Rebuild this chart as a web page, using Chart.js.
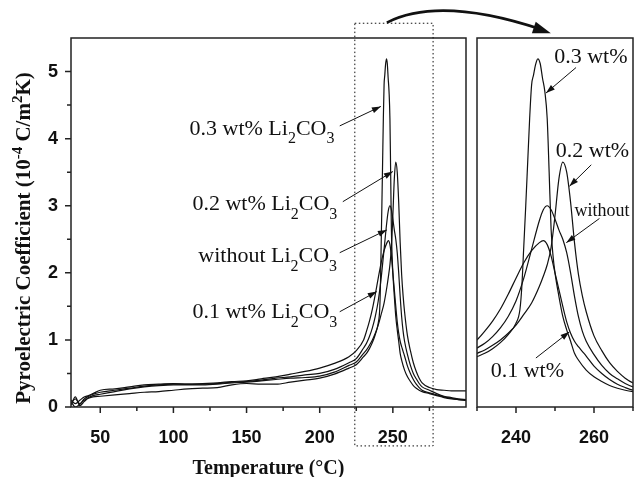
<!DOCTYPE html>
<html>
<head>
<meta charset="utf-8">
<script src="https://cdn.jsdelivr.net/npm/chart.js@4.4.0/dist/chart.umd.min.js"></script>
<style>
  html, body { margin: 0; padding: 0; background: #fff; }
  #wrap { position: relative; width: 641px; height: 477px; }
  #main { position: absolute; left: 0; top: 0; }
  #inset { position: absolute; left: 467px; top: 0; }
</style>
</head>
<body>
<div id="wrap">
  <canvas id="main" width="641" height="477"></canvas>
  <canvas id="inset" width="174" height="477"></canvas>
</div>
<script>
// temperatures (°C) shared by the baseline part of every curve
const baseT = [30, 33, 36, 39, 42, 45, 50, 60, 70, 80, 90, 100, 110, 120, 130, 140, 150, 160, 170, 180, 190, 200, 210, 220, 225];
// temperatures around the transition
const peakT = [230, 232, 234, 236, 238, 240, 242, 244, 246, 247, 248, 249, 250, 251, 252, 253, 254, 255, 256, 257, 258, 260, 262, 264, 266, 268, 270, 275, 280, 285, 290, 295, 300];
const peakT03 = [230, 232, 234, 236, 238, 240, 241, 241.5, 242, 242.5, 243, 243.5, 244, 244.5, 245, 245.6, 246.2, 246.8, 247.4, 248, 248.5, 249, 249.5, 250, 251, 252, 253, 254, 255, 256, 258, 260, 262, 264, 266, 268, 270, 275, 280, 285, 290, 295, 300];

// pyroelectric coefficient (10^-4 C/m2K)
const base01 = [0.06, 0.12, 0.05, 0.12, 0.16, 0.19, 0.22, 0.25, 0.28, 0.31, 0.33, 0.34, 0.34, 0.35, 0.36, 0.38, 0.39, 0.42, 0.45, 0.49, 0.53, 0.58, 0.65, 0.75, 0.84];
const peak01 = [1.0, 1.13, 1.28, 1.46, 1.68, 1.92, 2.15, 2.33, 2.45, 2.48, 2.42, 2.25, 2.0, 1.75, 1.5, 1.27, 1.1, 0.98, 0.9, 0.83, 0.76, 0.61, 0.5, 0.41, 0.34, 0.29, 0.25, 0.21, 0.18, 0.15, 0.13, 0.11, 0.1];

const base00 = [0.1, 0.05, 0.1, 0.15, 0.17, 0.2, 0.25, 0.27, 0.3, 0.33, 0.34, 0.35, 0.34, 0.34, 0.35, 0.37, 0.38, 0.4, 0.43, 0.45, 0.48, 0.5, 0.56, 0.66, 0.72];
const peak00 = [0.88, 0.95, 1.05, 1.18, 1.35, 1.58, 1.92, 2.35, 2.78, 2.94, 3.0, 2.94, 2.8, 2.64, 2.5, 2.3, 2.0, 1.65, 1.35, 1.13, 0.98, 0.78, 0.62, 0.5, 0.42, 0.35, 0.3, 0.25, 0.2, 0.16, 0.14, 0.12, 0.11];

const base02 = [0.03, 0.15, 0.02, 0.08, 0.14, 0.17, 0.19, 0.23, 0.27, 0.3, 0.32, 0.33, 0.33, 0.33, 0.34, 0.36, 0.37, 0.39, 0.41, 0.43, 0.44, 0.46, 0.52, 0.62, 0.67];
const peak02 = [0.8, 0.85, 0.92, 1.0, 1.1, 1.22, 1.38, 1.55, 1.8, 1.95, 2.12, 2.38, 2.85, 3.4, 3.65, 3.5, 3.05, 2.45, 1.98, 1.66, 1.42, 1.06, 0.84, 0.66, 0.53, 0.43, 0.36, 0.29, 0.26, 0.25, 0.24, 0.24, 0.24];

const base03 = [0.08, 0.0, 0.04, 0.1, 0.13, 0.15, 0.16, 0.18, 0.2, 0.22, 0.23, 0.25, 0.27, 0.28, 0.29, 0.33, 0.35, 0.34, 0.34, 0.37, 0.4, 0.43, 0.49, 0.58, 0.63];
const peak03 = [0.75, 0.8, 0.87, 0.96, 1.08, 1.25, 1.45, 1.8, 2.4, 3.0, 3.65, 4.3, 4.8, 4.95, 5.1, 5.19, 5.12, 4.9, 4.7, 4.3, 3.5, 2.65, 2.25, 2.0, 1.65, 1.35, 1.15, 0.98, 0.8, 0.7, 0.55, 0.45, 0.38, 0.32, 0.28, 0.25, 0.23, 0.2, 0.17, 0.14, 0.12, 0.11, 0.1];

const seriesNames = ['0.1 wt%', 'without', '0.2 wt%', '0.3 wt%'];

const xTicksMain = [50, 100, 150, 200, 250];
const xTicksInset = [240, 260];
const yTicks = [0, 1, 2, 3, 4, 5];

function pts(ts, vs) { return ts.map((t, i) => ({ x: t, y: vs[i] })); }

const curves = [
  pts(baseT.concat(peakT), base01.concat(peak01)),
  pts(baseT.concat(peakT), base00.concat(peak00)),
  pts(baseT.concat(peakT), base02.concat(peak02)),
  pts(baseT.concat(peakT03), base03.concat(peak03))
];

function makeDatasets() {
  return curves.map((c, i) => ({
    label: seriesNames[i],
    data: c,
    borderColor: '#111',
    borderWidth: 1.2,
    pointRadius: 0,
    fill: false,
    cubicInterpolationMode: 'monotone'
  }));
}

Chart.defaults.font.family = '"Liberation Sans", Arial, sans-serif';
Chart.defaults.color = '#111';

// text with sub/superscripts
function richWidth(ctx, parts, size, weight) {
  let w = 0;
  parts.forEach(([s, k]) => {
    const fs = k ? Math.round(size * 0.72) : size;
    ctx.font = weight + ' ' + fs + 'px "Liberation Serif", "Times New Roman", serif';
    w += ctx.measureText(s).width;
  });
  return w;
}
function drawRich(ctx, parts, x, y, size, weight) {
  let cx = x;
  ctx.textBaseline = 'alphabetic';
  ctx.textAlign = 'left';
  parts.forEach(([s, k]) => {
    const fs = k ? Math.round(size * 0.72) : size;
    ctx.font = weight + ' ' + fs + 'px "Liberation Serif", "Times New Roman", serif';
    const dy = k === 'sub' ? size * 0.4 : (k === 'sup' ? -size * 0.38 : 0);
    ctx.fillText(s, cx, y + dy);
    cx += ctx.measureText(s).width;
  });
}
function arrow(ctx, x1, y1, x2, y2, len, hw) {
  ctx.beginPath(); ctx.moveTo(x1, y1); ctx.lineTo(x2, y2); ctx.stroke();
  const a = Math.atan2(y2 - y1, x2 - x1);
  ctx.beginPath();
  ctx.moveTo(x2, y2);
  ctx.lineTo(x2 - len * Math.cos(a) + hw * Math.sin(a), y2 - len * Math.sin(a) - hw * Math.cos(a));
  ctx.lineTo(x2 - len * Math.cos(a) - hw * Math.sin(a), y2 - len * Math.sin(a) + hw * Math.cos(a));
  ctx.closePath(); ctx.fill();
}

const li2co3 = [['Li', ''], ['2', 'sub'], ['CO', ''], ['3', 'sub']];
// annotation anchors in data units: text start, arrow tail, arrow tip
const mainNotes = [
  { parts: [['0.3 wt% ', '']].concat(li2co3), at: [111, 4.06], from: [213.7, 4.19], to: [241.8, 4.48] },
  { parts: [['0.2 wt% ', '']].concat(li2co3), at: [113, 2.94], from: [215.8, 3.06], to: [250, 3.51] },
  { parts: [['without ', '']].concat(li2co3), at: [117, 2.16], from: [213.7, 2.3], to: [245.9, 2.64] },
  { parts: [['0.1 wt% ', '']].concat(li2co3), at: [113, 1.33], from: [213.7, 1.42], to: [239, 1.72] }
];
const insetNotes = [
  { parts: [['0.3 wt%', '']], size: 22, at: [249.8, 5.13], from: [255.4, 5.06], to: [247.7, 4.68] },
  { parts: [['0.2 wt%', '']], size: 22, at: [250.2, 3.72], from: [259.3, 3.61], to: [253.7, 3.29] },
  { parts: [['without', '']], size: 18, at: [255, 2.84], from: [261.4, 2.81], to: [252.9, 2.45] },
  { parts: [['0.1 wt%', '']], size: 22, at: [233.5, 0.45], from: [245.1, 0.73], to: [253.7, 1.12] }
];

function drawFrame(chart, xMinor, xMajor, yMinor, yMajor) {
  const { ctx, chartArea: a, scales: { x, y } } = chart;
  ctx.save();
  ctx.strokeStyle = '#222';
  ctx.lineWidth = 1.5;
  ctx.strokeRect(a.left, a.top, a.right - a.left, a.bottom - a.top);
  ctx.beginPath();
  xMinor.forEach(v => {
    const px = x.getPixelForValue(v);
    const l = xMajor.includes(v) ? 6 : 4;
    ctx.moveTo(px, a.bottom); ctx.lineTo(px, a.bottom + l);
  });
  yMinor.forEach(v => {
    const py = y.getPixelForValue(v);
    const l = yMajor.includes(v) ? 6 : 4;
    ctx.moveTo(a.left, py); ctx.lineTo(a.left - l, py);
  });
  ctx.stroke();
  ctx.restore();
}

const mainPlugin = {
  id: 'mainDeco',
  afterDraw(chart) {
    const { ctx, chartArea: a, scales: { x, y } } = chart;
    drawFrame(chart, [50, 75, 100, 125, 150, 175, 200, 225, 250, 275], xTicksMain,
      [0, 0.5, 1, 1.5, 2, 2.5, 3, 3.5, 4, 4.5, 5], yTicks);
    ctx.save();
    ctx.fillStyle = '#111';
    ctx.strokeStyle = '#111';
    // annotations
    mainNotes.forEach(n => {
      drawRich(ctx, n.parts, x.getPixelForValue(n.at[0]), y.getPixelForValue(n.at[1]), 22, 'normal');
      ctx.lineWidth = 1;
      arrow(ctx, x.getPixelForValue(n.from[0]), y.getPixelForValue(n.from[1]),
        x.getPixelForValue(n.to[0]), y.getPixelForValue(n.to[1]), 9, 3);
    });
    // dotted zoom window
    ctx.setLineDash([1.5, 2.5]);
    ctx.lineWidth = 1;
    const rx1 = x.getPixelForValue(224), rx2 = x.getPixelForValue(277.5);
    const ry1 = y.getPixelForValue(5.72), ry2 = y.getPixelForValue(-0.58);
    ctx.strokeRect(rx1, ry1, rx2 - rx1, ry2 - ry1);
    ctx.setLineDash([]);
    // curved arrow to the inset
    const sx = x.getPixelForValue(245.9), sy = y.getPixelForValue(5.73);
    const cx = x.getPixelForValue(282), cy = y.getPixelForValue(6.13);
    const ex = x.getPixelForValue(358), ey = y.getPixelForValue(5.57);
    ctx.lineWidth = 2.6;
    ctx.beginPath();
    ctx.moveTo(sx, sy);
    ctx.quadraticCurveTo(cx, cy, ex - 10, ey - 4);
    ctx.stroke();
    const ang = Math.atan2(ey - cy, ex - cx);
    ctx.beginPath();
    ctx.moveTo(ex, ey);
    ctx.lineTo(ex - 18 * Math.cos(ang) + 6 * Math.sin(ang), ey - 18 * Math.sin(ang) - 6 * Math.cos(ang));
    ctx.lineTo(ex - 18 * Math.cos(ang) - 6 * Math.sin(ang), ey - 18 * Math.sin(ang) + 6 * Math.cos(ang));
    ctx.closePath(); ctx.fill();
    // y title
    const yt = [['Pyroelectric Coefficient (10', ''], ['-4', 'sup'], [' C/m', ''], ['2', 'sup'], ['K)', '']];
    const w = richWidth(ctx, yt, 21, 'bold');
    ctx.translate(30, 238);
    ctx.rotate(-Math.PI / 2);
    drawRich(ctx, yt, -w / 2, 0, 21, 'bold');
    ctx.restore();
  }
};

const insetPlugin = {
  id: 'insetDeco',
  afterDraw(chart) {
    const { ctx, scales: { x, y } } = chart;
    drawFrame(chart, [230, 240, 250, 260, 270], xTicksInset, [], []);
    ctx.save();
    ctx.fillStyle = '#111';
    ctx.strokeStyle = '#111';
    insetNotes.forEach(n => {
      drawRich(ctx, n.parts, x.getPixelForValue(n.at[0]), y.getPixelForValue(n.at[1]), n.size, 'normal');
      ctx.lineWidth = 1;
      arrow(ctx, x.getPixelForValue(n.from[0]), y.getPixelForValue(n.from[1]),
        x.getPixelForValue(n.to[0]), y.getPixelForValue(n.to[1]), 9, 3);
    });
    ctx.restore();
  }
};

const tickFont = { size: 18, weight: 'bold' };
const setTicks = list => s => { s.ticks = list.map(v => ({ value: v })); };

new Chart(document.getElementById('main'), {
  type: 'line',
  data: { datasets: makeDatasets() },
  options: {
    responsive: false,
    animation: false,
    layout: { padding: { left: 0, top: 38, right: 175, bottom: 0 } },
    plugins: { legend: { display: false }, tooltip: { enabled: false } },
    scales: {
      x: {
        type: 'linear', min: 30, max: 300,
        grid: { display: false, drawTicks: false },
        border: { display: false },
        afterBuildTicks: setTicks(xTicksMain),
        ticks: { autoSkip: false, maxRotation: 0, padding: 20, font: tickFont },
        title: { display: true, text: 'Temperature (°C)', padding: { top: 0, bottom: -4 },
          font: { family: '"Liberation Serif", "Times New Roman", serif', size: 20, weight: 'bold' } },
        afterFit: s => { s.height = 70; }
      },
      y: {
        min: 0, max: 5.5,
        grid: { display: false, drawTicks: false },
        border: { display: false },
        afterBuildTicks: setTicks(yTicks),
        ticks: { autoSkip: false, padding: 13, font: tickFont },
        afterFit: s => { s.width = 71; }
      }
    }
  },
  plugins: [mainPlugin]
});

new Chart(document.getElementById('inset'), {
  type: 'line',
  data: { datasets: makeDatasets() },
  options: {
    responsive: false,
    animation: false,
    layout: { padding: { left: 10, top: 38, right: 8, bottom: 0 } },
    plugins: { legend: { display: false }, tooltip: { enabled: false } },
    scales: {
      x: {
        type: 'linear', min: 230, max: 270,
        grid: { display: false, drawTicks: false },
        border: { display: false },
        afterBuildTicks: setTicks(xTicksInset),
        ticks: { autoSkip: false, maxRotation: 0, padding: 20, font: tickFont },
        afterFit: s => { s.height = 70; }
      },
      y: { display: false, min: 0, max: 5.5 }
    }
  },
  plugins: [insetPlugin]
});
</script>
</body>
</html>
